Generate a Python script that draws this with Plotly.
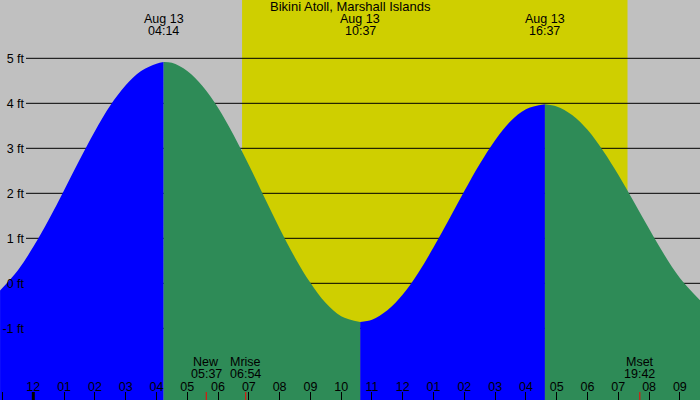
import plotly.graph_objects as go

# ---------------- data ----------------
TITLE = "Bikini Atoll, Marshall Islands"

# tide curve: hours from midnight Aug 13, height in feet
TIDE_HOURS = [-1.08, -0.5, 0, 0.5, 1, 1.5, 2, 2.5, 3, 3.5, 4, 4.233,
              4.5, 5, 5.5, 6, 6.5, 7, 7.5, 8, 8.5, 9, 9.5, 10, 10.617,
              11, 11.5, 12, 12.5, 13, 13.5, 14, 14.5, 15, 15.5, 16, 16.617,
              17, 17.5, 18, 18.5, 19, 19.5, 20, 20.5, 21, 21.66]
TIDE_FT = [-0.16, 0.29, 0.81, 1.41, 2.07, 2.74, 3.38, 3.95, 4.40, 4.72, 4.88, 4.92,
           4.90, 4.72, 4.38, 3.90, 3.30, 2.63, 1.92, 1.22, 0.57, 0.01, -0.44, -0.73, -0.86,
           -0.81, -0.60, -0.25, 0.23, 0.80, 1.42, 2.05, 2.65, 3.18, 3.60, 3.87, 3.98,
           3.93, 3.74, 3.41, 2.95, 2.41, 1.82, 1.21, 0.63, 0.12, -0.38]

# high / low extremes
EXT_HOURS = [4.233, 10.617, 16.617]
EXT_DATES = ["Aug 13", "Aug 13", "Aug 13"]
EXT_TIMES = ["04:14", "10:37", "16:37"]

# moon events
MOON_NAMES = ["New", "Mrise", "Mset"]
MOON_TIMES = ["05:37", "06:54", "19:42"]
MOON_HOURS = [5.617, 6.9, 19.7]

# daylight
SUNRISE = 6.78
SUNSET = 19.30

# axes
X_TICKS = list(range(-1, 22))
X_LABELS = ["11", "12", "01", "02", "03", "04", "05", "06", "07", "08", "09", "10",
            "11", "12", "01", "02", "03", "04", "05", "06", "07", "08", "09"]
Y_TICKS = [-1, 0, 1, 2, 3, 4, 5]
Y_LABELS = ["-1 ft", "0 ft", "1 ft", "2 ft", "3 ft", "4 ft", "5 ft"]

# ---------------- style ----------------
W, H = 700, 400
X_RANGE = [-1.082, 21.654]
Y_RANGE = [-2.593, 6.296]
BG = "#c0c0c0"
DAY = "#cfcf00"
RISE = "#0000ff"
FALL = "#2e8b57"
FAMILY = "Liberation Sans, Arial, sans-serif"
FONT = dict(family=FAMILY, size=12.5, color="black")
TITLE_FONT = dict(family=FAMILY, size=13, color="black")

fig = go.Figure()

# split the curve into rising / falling segments at the extremes
cuts = [0] + [TIDE_HOURS.index(h) for h in EXT_HOURS] + [len(TIDE_HOURS) - 1]
for a, b in zip(cuts[:-1], cuts[1:]):
    xs = TIDE_HOURS[a:b + 1]
    ys = TIDE_FT[a:b + 1]
    color = RISE if ys[-1] > ys[0] else FALL
    fig.add_trace(go.Scatter(x=xs, y=[Y_RANGE[0]] * len(xs), mode="lines",
                             line=dict(width=0), hoverinfo="skip", showlegend=False))
    fig.add_trace(go.Scatter(x=xs, y=ys, mode="lines", fill="tonexty",
                             fillcolor=color, line=dict(width=0, color=color, shape="spline"),
                             showlegend=False))

shapes = []
# daylight band
shapes.append(dict(type="rect", xref="x", yref="paper", x0=SUNRISE, x1=SUNSET, y0=0, y1=1,
                   fillcolor=DAY, line=dict(width=0), layer="below"))
# horizontal grid lines (start right of the y labels)
for v in Y_TICKS:
    shapes.append(dict(type="line", xref="paper", yref="y", x0=26 / W, x1=1, y0=v, y1=v,
                       line=dict(color="black", width=1), layer="below"))
# midnight tick
for t, lab in zip(X_TICKS, X_LABELS):
    if t % 24 == 0:
        shapes.append(dict(type="line", xref="x", yref="paper", x0=t, x1=t,
                           ysizemode="pixel", yanchor=0, y0=0, y1=8,
                           line=dict(color="black", width=3)))
# moon event ticks
for t in MOON_HOURS:
    shapes.append(dict(type="line", xref="x", yref="paper", x0=t, x1=t,
                       ysizemode="pixel", yanchor=0, y0=0, y1=8,
                       line=dict(color="red", width=1)))

ann = []
ann.append(dict(text=TITLE, xref="paper", yref="paper", x=0.5, y=1 - 7 / H,
                yanchor="middle", xanchor="center", showarrow=False, font=TITLE_FONT))
for t, d, tm in zip(EXT_HOURS, EXT_DATES, EXT_TIMES):
    ann.append(dict(text=d, xref="x", yref="paper", x=t, y=1 - 19 / H, yanchor="middle",
                    xanchor="center", showarrow=False, font=FONT))
    ann.append(dict(text=tm, xref="x", yref="paper", x=t, y=1 - 31 / H, yanchor="middle",
                    xanchor="center", showarrow=False, font=FONT))
for t, n, tm in zip(MOON_HOURS, MOON_NAMES, MOON_TIMES):
    ann.append(dict(text=n, xref="x", yref="paper", x=t, y=1 - 362 / H, yanchor="middle",
                    xanchor="center", showarrow=False, font=FONT))
    ann.append(dict(text=tm, xref="x", yref="paper", x=t, y=1 - 374 / H, yanchor="middle",
                    xanchor="center", showarrow=False, font=FONT))

fig.update_layout(
    width=W, height=H, margin=dict(l=0, r=0, t=0, b=0, pad=0),
    paper_bgcolor=BG, plot_bgcolor=BG, font=FONT,
    shapes=shapes, annotations=ann, showlegend=False,
    xaxis=dict(range=X_RANGE, tickvals=X_TICKS, ticktext=X_LABELS, ticks="inside",
               ticklen=8, tickwidth=1, tickcolor="black", ticklabelposition="inside",
               ticklabelstandoff=-2,
               showgrid=False, zeroline=False, showline=False, automargin=False,
               tickfont=FONT, fixedrange=True),
    yaxis=dict(range=Y_RANGE, tickvals=Y_TICKS, ticktext=Y_LABELS, ticks="",
               anchor="free", position=26 / W, side="left", ticklabelstandoff=2,
               showgrid=False, zeroline=False, showline=False, automargin=False,
               tickfont=FONT, fixedrange=True),
)

fig.write_html("out.html", config={"displayModeBar": False, "staticPlot": True},
               post_script="document.body.style.margin='0';document.body.style.overflow='hidden';")
